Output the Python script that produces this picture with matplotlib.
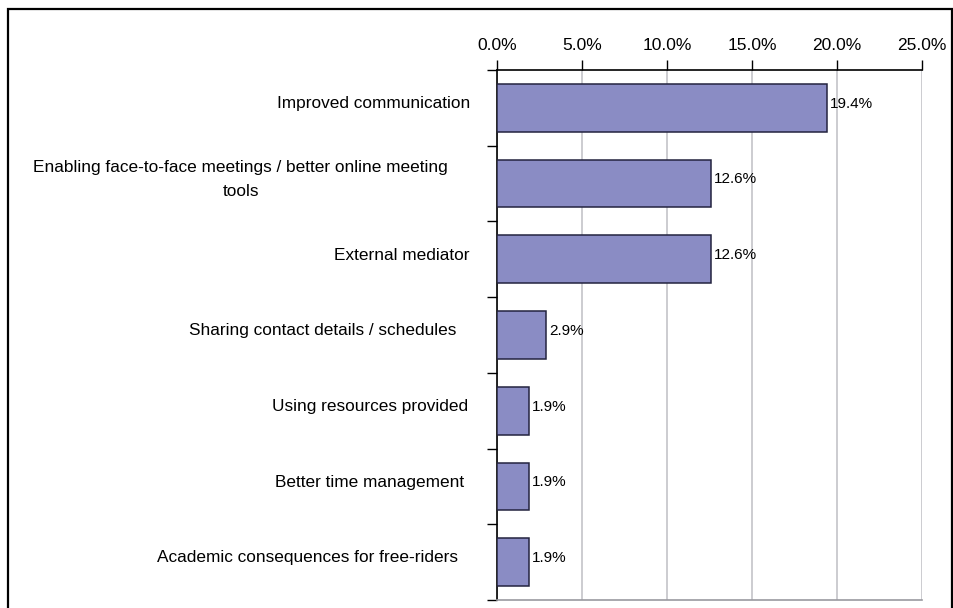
import matplotlib
matplotlib.use("Agg")
import matplotlib.pyplot as plt
from matplotlib.patches import Rectangle

plt.rcParams['font.family'] = ['Liberation Sans', 'DejaVu Sans']

# suggestions for improving group work, share of responses
labels = ["Improved communication",
          "Enabling face-to-face meetings / better online meeting\ntools",
          "External mediator",
          "Sharing contact details / schedules",
          "Using resources provided",
          "Better time management",
          "Academic consequences for free-riders"]
shares = [19.4, 12.6, 12.6, 2.9, 1.9, 1.9, 1.9]
xticks = [0, 5, 10, 15, 20, 25]
# right edge of each category label, pixels left of the axis
label_gap = [27, 49, 27, 41, 29, 33, 39]

fig = plt.figure(figsize=(9.54, 6.08), dpi=100)
fig.patches.append(Rectangle((8 / 954, -0.1), 944 / 954, 1.1 - 9 / 608,
                             transform=fig.transFigure, fill=False,
                             edgecolor='black', linewidth=1.6))
ax = fig.add_axes([497 / 954, 8 / 608, 425 / 954, 530 / 608])

y = list(range(len(labels)))
ax.barh(y, shares, height=0.63, color='#8a8cc4', edgecolor='#23233f',
        linewidth=1.1, zorder=3)
ax.set_ylim(len(labels) - 0.5, -0.5)
ax.set_xlim(0, 25)

ax.xaxis.tick_top()
ax.set_xticks(xticks)
ax.set_xticklabels(['%.1f%%' % t for t in xticks], fontsize=12.5)
ax.tick_params(axis='x', direction='out', length=7, width=1, pad=5)
ax.grid(True, axis='x', color='#c4c4c8', linewidth=1.2, zorder=0)

ax.set_yticks([i - 0.5 for i in range(len(labels) + 1)])
ax.set_yticklabels([])
ax.tick_params(axis='y', direction='out', length=7, width=1)

for i, (lab, v) in enumerate(zip(labels, shares)):
    ax.annotate(lab, xy=(0, i), xycoords=('axes fraction', 'data'),
                xytext=(-label_gap[i] * 0.72, 3), textcoords='offset points',
                ha='right', va='center', multialignment='center',
                linespacing=1.75, fontsize=12.4)
    ax.annotate('%.1f%%' % v, xy=(v, i), xytext=(2, 3),
                textcoords='offset points', ha='left', va='center',
                fontsize=11)

ax.spines['right'].set_visible(False)
ax.spines['bottom'].set_color('#9a9aa0')
ax.spines['bottom'].set_linewidth(1.2)
ax.spines['top'].set_linewidth(1.2)
ax.spines['left'].set_linewidth(1.2)

fig.savefig('out.png', dpi=100)
